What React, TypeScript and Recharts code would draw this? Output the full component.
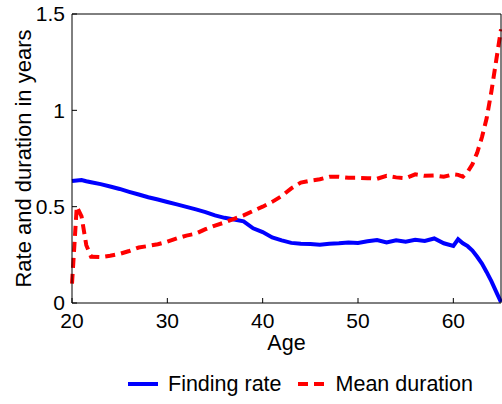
import React from 'react';
import { LineChart, Line, XAxis, YAxis } from 'recharts';

const ages = [
  20, 20.5, 21, 21.5, 22, 23, 24, 25, 26, 27, 28, 29, 30, 31, 32, 33, 34, 35, 36, 37, 38, 39, 40,
  41, 42, 43, 44, 45, 46, 47, 48, 49, 50, 51, 52, 53, 54, 55, 56, 57, 58, 59, 60, 60.5, 61, 61.5,
  62, 62.5, 63, 63.5, 64, 64.5, 65,
];

const findingRate = [
  0.633, 0.636, 0.638, 0.632, 0.627, 0.617, 0.605, 0.592, 0.577, 0.563, 0.549, 0.537, 0.524,
  0.512, 0.499, 0.486, 0.472, 0.455, 0.442, 0.433, 0.424, 0.388, 0.368, 0.34, 0.325, 0.312,
  0.307, 0.306, 0.303, 0.308, 0.31, 0.314, 0.312, 0.32, 0.327, 0.314, 0.326, 0.318, 0.328,
  0.322, 0.335, 0.31, 0.296, 0.331, 0.31, 0.295, 0.272, 0.24, 0.205, 0.16, 0.112, 0.058, 0.005,
];

const meanDuration = [
  0.1, 0.5, 0.45, 0.3, 0.24, 0.238, 0.245, 0.255, 0.27, 0.288, 0.296, 0.305, 0.318, 0.335,
  0.35, 0.36, 0.383, 0.402, 0.418, 0.437, 0.455, 0.478, 0.5, 0.525, 0.555, 0.595, 0.625, 0.635,
  0.642, 0.655, 0.655, 0.65, 0.65, 0.648, 0.645, 0.66, 0.652, 0.648, 0.668, 0.66, 0.662, 0.655,
  0.668, 0.665, 0.656, 0.68, 0.72, 0.78, 0.86, 0.96, 1.1, 1.26, 1.42,
];

const xTicks = [20, 30, 40, 50, 60];
const yTicks = [0, 0.5, 1, 1.5];

const data = ages.map((age, i) => ({
  age,
  rate: findingRate[i],
  duration: meanDuration[i],
}));

const FONT = '"Liberation Sans", Arial, Helvetica, sans-serif';

export default function App() {
  return (
    <div style={{ position: 'absolute', left: 0, top: 0, width: 502, height: 404, fontFamily: FONT, background: '#fff' }}>
      <LineChart width={502} height={404} data={data} margin={{ top: 13, right: 0, bottom: 41, left: 0 }}>
        <XAxis
          xAxisId="bottom"
          dataKey="age"
          type="number"
          domain={[20, 65]}
          ticks={xTicks}
          height={60}
          stroke="#000"
          tickSize={-5}
          tickMargin={15}
          tick={{ fill: '#000', fontSize: 21 }}
          label={{ value: 'Age', position: 'insideTop', offset: 32, fill: '#000', fontSize: 21.5 }}
        />
        <XAxis
          xAxisId="top"
          orientation="top"
          dataKey="age"
          type="number"
          domain={[20, 65]}
          ticks={xTicks}
          height={1}
          stroke="#000"
          tickSize={-5}
          tick={false}
        />
        <YAxis
          yAxisId="left"
          type="number"
          domain={[0, 1.5]}
          ticks={yTicks}
          width={72}
          stroke="#000"
          tickSize={-5}
          tickMargin={12}
          tick={{ fill: '#000', fontSize: 21 }}
          label={{ value: 'Rate and duration in years', angle: -90, position: 'center', dx: -13, fill: '#000', fontSize: 22 }}
        />
        <YAxis
          yAxisId="right"
          orientation="right"
          type="number"
          domain={[0, 1.5]}
          ticks={yTicks}
          width={1}
          stroke="#000"
          tickSize={-5}
          tick={false}
        />
        <Line
          xAxisId="bottom"
          yAxisId="left"
          type="linear"
          dataKey="rate"
          name="Finding rate"
          stroke="#0000ff"
          strokeWidth={4}
          dot={false}
          isAnimationActive={false}
        />
        <Line
          xAxisId="bottom"
          yAxisId="left"
          type="linear"
          dataKey="duration"
          name="Mean duration"
          stroke="#ff0000"
          strokeWidth={4}
          strokeDasharray="10 6"
          dot={false}
          isAnimationActive={false}
        />
      </LineChart>
      <div
        style={{
          position: 'absolute',
          left: 128,
          top: 371,
          display: 'flex',
          alignItems: 'center',
          fontSize: 21.5,
          lineHeight: '26px',
          color: '#000',
          whiteSpace: 'nowrap',
        }}
      >
        <svg width={30} height={8} style={{ marginRight: 10 }}>
          <line x1={0} y1={4} x2={30} y2={4} stroke="#0000ff" strokeWidth={4} />
        </svg>
        <span>Finding rate</span>
        <svg width={27} height={8} style={{ marginLeft: 16, marginRight: 11 }}>
          <line x1={0} y1={4} x2={27} y2={4} stroke="#ff0000" strokeWidth={4} strokeDasharray="10 6" />
        </svg>
        <span>Mean duration</span>
      </div>
    </div>
  );
}
